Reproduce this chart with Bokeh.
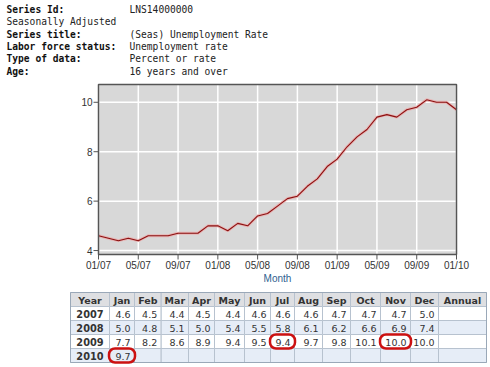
from bokeh.plotting import figure
from bokeh.models import Range1d
from bokeh.embed import file_html
from bokeh.resources import INLINE
from bokeh.core.properties import value

# ---------------- data ----------------
header_labels = ["Series Id:", "Seasonally Adjusted", "Series title:",
                 "Labor force status:", "Type of data:", "Age:"]
header_bold = [True, False, True, True, True, True]
header_values = ["LNS14000000", "", "(Seas) Unemployment Rate",
                 "Unemployment rate", "Percent or rate", "16 years and over"]

table_columns = ["Year", "Jan", "Feb", "Mar", "Apr", "May", "Jun", "Jul",
                 "Aug", "Sep", "Oct", "Nov", "Dec", "Annual"]
years = ["2007", "2008", "2009", "2010"]
rate_2007 = [4.6, 4.5, 4.4, 4.5, 4.4, 4.6, 4.6, 4.6, 4.7, 4.7, 4.7, 5.0]
rate_2008 = [5.0, 4.8, 5.1, 5.0, 5.4, 5.5, 5.8, 6.1, 6.2, 6.6, 6.9, 7.4]
rate_2009 = [7.7, 8.2, 8.6, 8.9, 9.4, 9.5, 9.4, 9.7, 9.8, 10.1, 10.0, 10.0]
rate_2010 = [9.7]
circled = [("2009", "Jul"), ("2009", "Nov"), ("2010", "Jan")]

x_tick_labels = ["01/07", "05/07", "09/07", "01/08", "05/08", "09/08",
                 "01/09", "05/09", "09/09", "01/10"]
y_ticks = [4, 6, 8, 10]
x_axis_title = "Month"

# ---------------- layout constants (pixels) ----------------
W, H = 490, 367
FL, FR = 98, 456          # chart frame left / right
FT, FB = 84, 254          # chart frame top / bottom
RATE_LO, RATE_HI = 3.84, 10.72
MONO = value("DejaVu Sans Mono")

series = rate_2007 + rate_2008 + rate_2009 + rate_2010
idx = list(range(len(series)))
n_months = len(series) - 1
step = n_months // (len(x_tick_labels) - 1)
xt = [i * step for i in range(len(x_tick_labels))]

sx = (FR - FL) / n_months                   # px per month
sy = (FB - FT) / (RATE_HI - RATE_LO)        # px per rate unit

p = figure(width=W, height=H, x_range=Range1d(0, W), y_range=Range1d(H, 0),
           output_backend="svg", toolbar_location=None, min_border=0,
           outline_line_color=None, background_fill_color="white")
p.axis.visible = False
p.grid.visible = False
p.extra_x_ranges = {"month": Range1d(-FL / sx, n_months + (W - FR) / sx)}
p.extra_y_ranges = {"rate": Range1d(RATE_LO - (H - FB) / sy, RATE_HI + FT / sy)}

# ---------------- header ----------------
row_y = [9 + 12.3 * i for i in range(len(header_labels))]
bold_y = [y for y, bld in zip(row_y, header_bold) if bld]
bold_t = [s for s, bld in zip(header_labels, header_bold) if bld]
norm_y = [y for y, bld in zip(row_y, header_bold) if not bld]
norm_t = [s for s, bld in zip(header_labels, header_bold) if not bld]
p.text(x=[6] * len(bold_t), y=bold_y, text=bold_t,
       text_font=MONO, text_font_size="9.6px",
       text_font_style="bold", text_color="#111111",
       text_baseline="middle", text_align="left")
p.text(x=[6] * len(norm_t), y=norm_y, text=norm_t,
       text_font=MONO, text_font_size="9.6px",
       text_color="#222222", text_baseline="middle", text_align="left")
p.text(x=[129] * len(header_values), y=row_y, text=header_values,
       text_font=MONO, text_font_size="9.6px",
       text_color="#222222", text_baseline="middle", text_align="left")

# ---------------- chart ----------------
M = dict(x_range_name="month", y_range_name="rate")
p.quad(left=[0], right=[n_months], bottom=[RATE_LO], top=[RATE_HI],
       fill_color="#d8d8d8", line_color=None, **M)
p.segment(x0=xt, x1=xt, y0=[RATE_LO] * len(xt), y1=[RATE_HI] * len(xt),
          line_color="white", line_width=1.5, **M)
p.segment(x0=[0] * len(y_ticks), x1=[n_months] * len(y_ticks), y0=y_ticks, y1=y_ticks,
          line_color="white", line_width=1.5, **M)
p.line(idx, series, line_color="#e9b0b0", line_width=3, line_alpha=0.9, **M)
p.line(idx, series, line_color="#8b1010", line_width=1.1, **M)
p.quad(left=[0], right=[n_months], bottom=[RATE_LO], top=[RATE_HI],
       fill_color=None, line_color="#555555", line_width=1.5, **M)
# x ticks & labels
p.segment(x0=xt, x1=xt, y0=[FB] * len(xt), y1=[FB + 5] * len(xt),
          line_color="#555555", line_width=1, x_range_name="month")
p.text(x=xt, y=[FB + 11] * len(xt), text=x_tick_labels,
       text_font=value("Liberation Sans"), text_font_size="10px",
       text_color="#333333", text_align="center", text_baseline="middle",
       x_range_name="month")
p.text(x=[n_months / 2], y=[FB + 24], text=[x_axis_title],
       text_font=value("Liberation Sans"), text_font_size="10px",
       text_color="#2f5f8f", text_align="center", text_baseline="middle",
       x_range_name="month")
# y ticks & labels
p.segment(x0=[FL - 5] * len(y_ticks), x1=[FL] * len(y_ticks), y0=y_ticks, y1=y_ticks,
          line_color="#555555", line_width=1, y_range_name="rate")
p.text(x=[FL - 6] * len(y_ticks), y=y_ticks, text=[str(t) for t in y_ticks],
       text_font=value("Liberation Sans"), text_font_size="10px",
       text_color="#333333", text_align="right", text_baseline="middle",
       y_range_name="rate")

# ---------------- table ----------------
edges = [70, 109, 134, 160.7, 188, 214, 244, 270, 294, 322, 350, 380, 410, 438, 486]
row_h = 14
T0 = 292
row_top = [T0 + row_h * r for r in range(len(years) + 1)]

all_rates = [rate_2007, rate_2008, rate_2009, rate_2010]
row_fill = ["#dedfe2", "#ffffff", "#e6edf7", "#ffffff", "#e6edf7"]

l, r, t, b, f = [], [], [], [], []
for ri in range(len(years) + 1):
    for ci in range(len(table_columns)):
        l.append(edges[ci]); r.append(edges[ci + 1])
        t.append(row_top[ri]); b.append(row_top[ri] + row_h)
        f.append(row_fill[ri])
p.quad(left=l, right=r, top=t, bottom=b, fill_color=f,
       line_color="#b7c2cf", line_width=1)
p.quad(left=[edges[0]], right=[edges[-1]], top=[row_top[0]],
       bottom=[row_top[-1] + row_h], fill_color=None,
       line_color="#9aa8b8", line_width=1)

hx = [(edges[i] + edges[i + 1]) / 2 for i in range(len(table_columns))]
p.text(x=hx, y=[row_top[0] + row_h / 2 + 0.5] * len(hx), text=table_columns,
       text_font=value("DejaVu Sans"), text_font_size="9.5px",
       text_font_style="bold", text_color="#333333",
       text_align="center", text_baseline="middle")
p.text(x=[hx[0]] * len(years),
       y=[row_top[i + 1] + row_h / 2 + 0.5 for i in range(len(years))],
       text=years, text_font=value("DejaVu Sans"), text_font_size="9.8px",
       text_font_style="bold", text_color="#333333",
       text_align="center", text_baseline="middle")
vx, vy, vt = [], [], []
for yi, vals in enumerate(all_rates):
    for mi, v in enumerate(vals):
        vx.append(edges[mi + 2] - 4)
        vy.append(row_top[yi + 1] + row_h / 2 + 0.5)
        vt.append(f"{v:.1f}")
p.text(x=vx, y=vy, text=vt, text_font=value("DejaVu Sans"),
       text_font_size="9.5px", text_color="#333333",
       text_align="right", text_baseline="middle")

cx, cy, cw = [], [], []
for yr, mo in circled:
    ci = table_columns.index(mo)
    ri = years.index(yr) + 1
    cx.append((edges[ci] + edges[ci + 1]) / 2)
    cy.append(row_top[ri] + row_h / 2)
    cw.append(edges[ci + 1] - edges[ci] + 1)
p.rect(x=cx, y=cy, width=cw, height=row_h, fill_color=None,
       line_color="#cc1111", line_width=2.5, border_radius=6)

open("out.html", "w").write(file_html(p, INLINE))
